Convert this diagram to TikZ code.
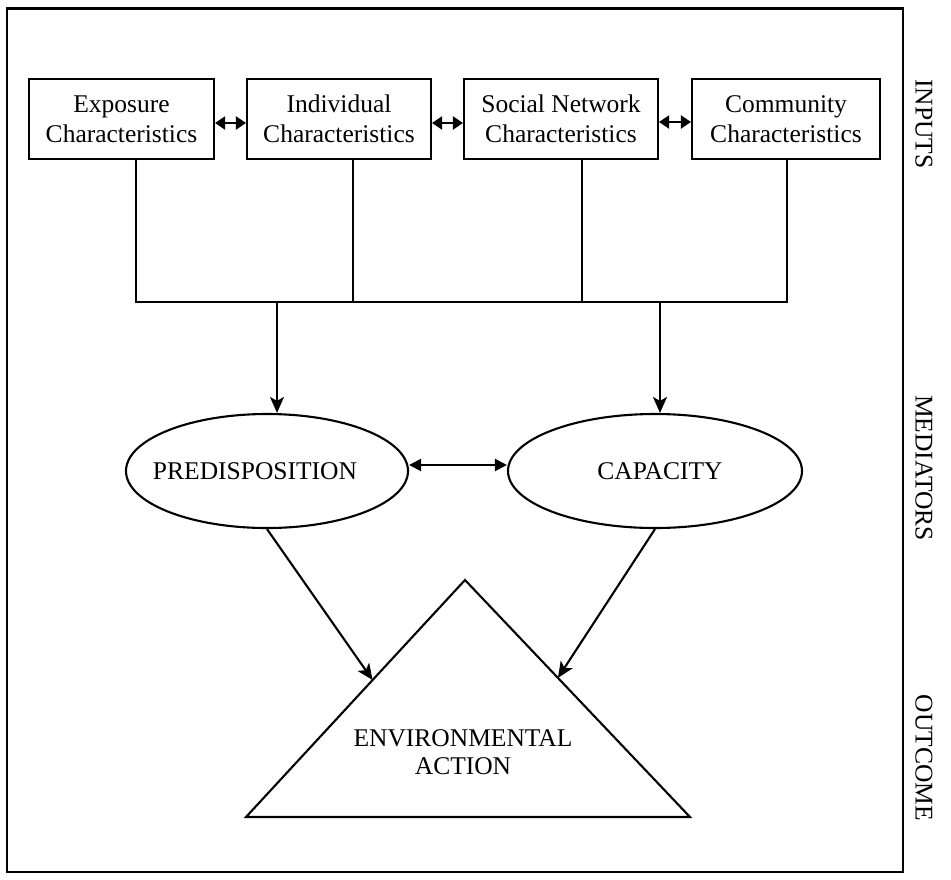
\documentclass[tikz,border=0pt]{standalone}
\usepackage{fontspec}
\setmainfont{Liberation Serif}
\usetikzlibrary{shapes.geometric,arrows.meta,calc}
\begin{document}
\begin{tikzpicture}[x=1pt,y=-1pt,
  line width=2.1pt,
  txt/.style={font=\fontsize{25.5}{30}\selectfont},
  inbox/.style={txt, draw, rectangle, minimum height=80pt, inner sep=0pt, align=center},
  oval/.style={txt, draw, ellipse, minimum height=114pt, inner sep=0pt},
  sidelab/.style={txt, rotate=-90, inner sep=0pt},
  dbl/.style={{Triangle[length=10pt,width=13pt]}-{Triangle[length=10pt,width=13pt]}},
  dblsm/.style={{Triangle[length=12pt,width=12pt]}-{Triangle[length=12pt,width=12pt]}},
  downarr/.style={-{Stealth[length=16pt,width=14pt,inset=4pt]}},
]
\useasboundingbox (0,0) rectangle (951,879);

% frame
\draw (7,8.5) rectangle (903,872);

% input boxes
\node[inbox, minimum width=185pt] (exp) at (121.5,119) {Exposure\\Characteristics};
\node[inbox, minimum width=184pt] (ind) at (339,119) {Individual\\Characteristics};
\node[inbox, minimum width=194pt] (soc) at (561,119) {Social Network\\Characteristics};
\node[inbox, minimum width=188pt] (com) at (786,119) {Community\\Characteristics};

\draw[dbl] ([yshift=-4pt]exp.east) -- ([yshift=-4pt]ind.west);
\draw[dbl] ([yshift=-4pt]ind.east) -- ([yshift=-4pt]soc.west);
\draw[dbl] ([yshift=-3pt]soc.east) -- ([yshift=-3pt]com.west);

% bus
\coordinate (b1) at (136,302);
\coordinate (b2) at (353,302);
\coordinate (b3) at (582,302);
\coordinate (b4) at (787,302);
\coordinate (d1) at (277,302);
\coordinate (d2) at (660,302);

\draw (b1 |- exp.south) -- (b1);
\draw (b2 |- ind.south) -- (b2);
\draw (b3 |- soc.south) -- (b3);
\draw (b4 |- com.south) -- (b4);
\draw[line cap=rect] (b1) -- (b4);

% mediators
\node[oval, minimum width=282pt] (pred) at (267,471) {\hspace*{-24pt}PREDISPOSITION};
\node[oval, minimum width=294pt] (cap) at (655,471) {\hspace*{10pt}CAPACITY};

\draw[downarr] (d1) -- (d1 |- pred.north);
\draw[downarr] (d2) -- (d2 |- cap.north);
\draw[dblsm] ([yshift=6pt]pred.east) -- ([yshift=6pt]cap.west);

% outcome triangle
\coordinate (apex) at (465,580);
\coordinate (bl) at (246,817);
\coordinate (br) at (690,817);
\draw[line join=miter] (apex) -- (bl) -- (br) -- cycle;
\node[txt, align=center, font=\fontsize{25.5}{28}\selectfont] (act) at (463,752) {ENVIRONMENTAL\\ACTION};

\coordinate (tl) at ($(apex)!0.422!(bl)$);
\coordinate (tr) at ($(apex)!0.413!(br)$);
\draw[downarr] (pred.south) -- (tl);
\draw[downarr] (cap.south) -- (tr);

% side labels
\node[sidelab] (lin) at (924,124) {INPUTS};
\node[sidelab] (lmed) at (924,468) {MEDIATORS};
\node[sidelab] (lout) at (924,758) {OUTCOME};
\end{tikzpicture}
\end{document}
